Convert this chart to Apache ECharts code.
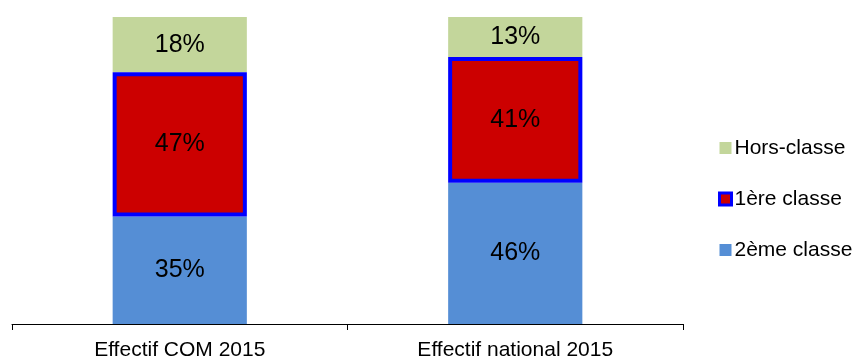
<!DOCTYPE html>
<html><head><meta charset="utf-8">
<script src="https://cdn.jsdelivr.net/npm/echarts@6/dist/echarts.min.js"></script>
<style>html,body{margin:0;padding:0;background:#fff}#c{width:854px;height:361px}</style>
</head><body><div id="c"></div>
<script>
const categories = ["Effectif COM 2015", "Effectif national 2015"];
const deuxieme = [35, 46];
const premiere = [47, 41];
const horsClasse = [18, 13];
const legendOrder = ["Hors-classe", "1ère classe", "2ème classe"];

const chart = echarts.init(document.getElementById('c'), null, {renderer: 'canvas'});
const font = '"Liberation Sans", Arial, sans-serif';
const lbl = {show: true, position: 'inside', formatter: p => p.value + '%', color: '#000', fontSize: 25, fontFamily: font};
chart.setOption({
  animation: false,
  grid: {left: 12, right: 171, top: 17, bottom: 36},
  legend: {
    orient: 'vertical', left: 718, top: 136, padding: 0, itemGap: 27, itemWidth: 12, itemHeight: 12,
    data: legendOrder.map(n => n === "1ère classe" ? {name: n, itemStyle: {borderWidth: 3, borderColor: '#0000ff'}} : {name: n}),
    textStyle: {fontSize: 21, lineHeight: 24, fontFamily: font, color: '#000', padding: [0,0,0,-2]},
    icon: 'rect'
  },
  xAxis: {
    type: 'category', data: categories,
    axisLine: {lineStyle: {color: '#000', width: 1}},
    axisTick: {show: true, length: 6, lineStyle: {color: '#000'}},
    axisLabel: {fontSize: 21, fontFamily: font, color: '#000', margin: 16}
  },
  yAxis: {type: 'value', min: 0, max: 100, show: false, splitLine: {show: false}},
  series: [
    {name: "2ème classe", type: 'bar', stack: 's', barWidth: '40%', data: deuxieme,
     itemStyle: {color: '#558ed5'}, label: lbl},
    {name: "1ère classe", type: 'bar', stack: 's', data: premiere, z: 5,
     itemStyle: {color: '#cc0000', borderColor: '#0000ff', borderWidth: 4}, label: lbl},
    {name: "Hors-classe", type: 'bar', stack: 's', data: horsClasse,
     itemStyle: {color: '#c3d69b'}, label: lbl}
  ]
});
</script></body></html>
